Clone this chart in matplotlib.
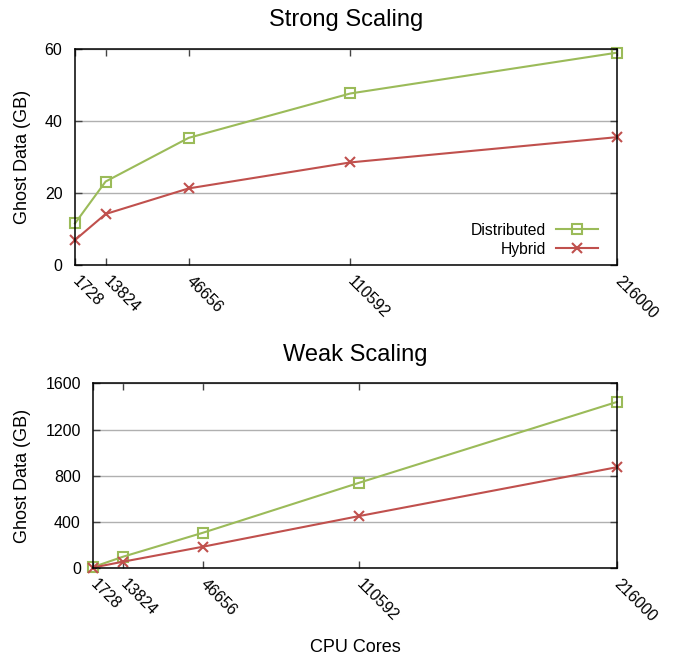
import numpy as np
import matplotlib
matplotlib.use("Agg")
import matplotlib.pyplot as plt

plt.rcParams['font.family'] = ['Liberation Sans', 'DejaVu Sans']

cores = [1728, 13824, 46656, 110592, 216000]
core_labels = ['1728', '13824', '46656', '110592', '216000']

strong_distributed = [11.6, 23.2, 35.3, 47.6, 58.9]
strong_hybrid = [7.0, 14.2, 21.3, 28.5, 35.5]

weak_distributed = [11.6, 100, 308, 740, 1438]
weak_hybrid = [7.0, 57, 187, 452, 874]

green = '#9bbb59'
red = '#c0504d'

fig = plt.figure(figsize=(6.73, 6.58), dpi=100)
ax1 = fig.add_axes([0.1114, 0.5968, 0.8054, 0.3292])
ax2 = fig.add_axes([0.1387, 0.1363, 0.7776, 0.2812])


def style(ax, yticks, title):
    ax.set_xlim(cores[0], cores[-1])
    ax.set_ylim(yticks[0], yticks[-1])
    ax.set_yticks(yticks)
    ax.set_xticks(cores)
    ax.set_xticklabels(core_labels, rotation=-45, ha='left', va='center',
                       rotation_mode='anchor')
    ax.tick_params(direction='in', length=5, width=1, labelsize=11.5,
                   top=True, right=True, color='#444444')
    ax.tick_params(axis='x', pad=10)
    ax.tick_params(axis='y', pad=9)
    ax.yaxis.grid(True, color='#b0b0b0', linewidth=1)
    ax.set_axisbelow(True)
    for s in ax.spines.values():
        s.set_linewidth(1.1)
    ax.set_ylabel('Ghost Data (GB)', fontsize=13)
    ax.set_title(title, fontsize=17, pad=16)


ax1.plot(cores, strong_distributed, color=green, marker='s', markersize=7,
         markerfacecolor='none', markeredgewidth=1.5, linewidth=1.5,
         label='Distributed', clip_on=False)
ax1.plot(cores, strong_hybrid, color=red, marker='x', markersize=7,
         markeredgewidth=1.5, linewidth=1.5, label='Hybrid', clip_on=False)
style(ax1, [0, 20, 40, 60], 'Strong Scaling')
ax1.yaxis.set_label_coords(-0.082, 0.5)
ax1.legend(loc='lower right', frameon=False, markerfirst=False, fontsize=11.3,
           handlelength=2.7, bbox_to_anchor=(0.9655, 0.04), borderaxespad=0,
           borderpad=0, labelspacing=0.25, handletextpad=0.64)

ax2.plot(cores, weak_distributed, color=green, marker='s', markersize=7,
         markerfacecolor='none', markeredgewidth=1.5, linewidth=1.5,
         label='Distributed', clip_on=False)
ax2.plot(cores, weak_hybrid, color=red, marker='x', markersize=7,
         markeredgewidth=1.5, linewidth=1.5, label='Hybrid', clip_on=False)
style(ax2, [0, 400, 800, 1200, 1600], 'Weak Scaling')
ax2.yaxis.set_label_coords(-0.119, 0.5)
ax2.set_xlabel('CPU Cores', fontsize=13)
ax2.xaxis.set_label_coords(0.5, -0.38)

fig.savefig('out.png', dpi=100)
